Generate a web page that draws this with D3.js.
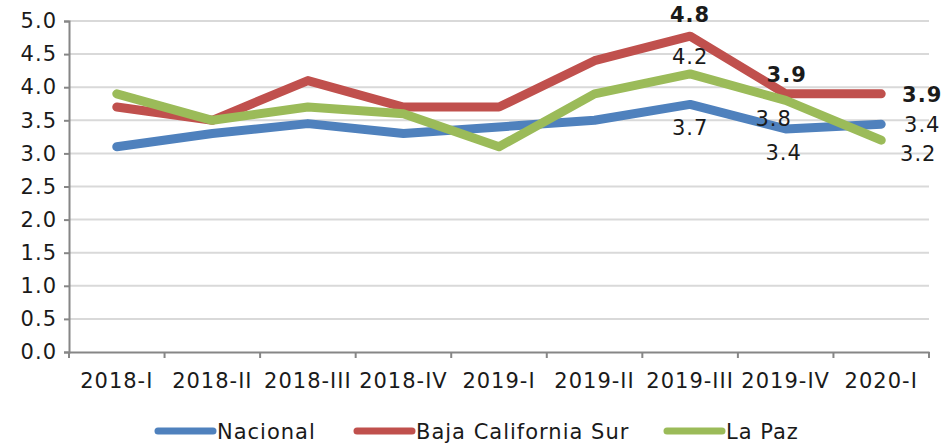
<!DOCTYPE html>
<html>
<head>
<meta charset="utf-8">
<script src="https://cdn.jsdelivr.net/npm/d3@7"></script>
<style>
  body { margin: 0; background: #fff; }
  text { font-family: "DejaVu Sans", "Open Sans", sans-serif; fill: #1a1a1a; letter-spacing: 1px; }
</style>
</head>
<body>
<div id="plotarea"></div>
<script>
var categories = ['2018-I', '2018-II', '2018-III', '2018-IV', '2019-I', '2019-II', '2019-III', '2019-IV', '2020-I'];
var nacional = [3.1, 3.3, 3.45, 3.3, 3.4, 3.5, 3.74, 3.37, 3.44];
var bcs = [3.7, 3.5, 4.1, 3.7, 3.7, 4.4, 4.77, 3.9, 3.9];
var laPaz = [3.9, 3.5, 3.7, 3.6, 3.1, 3.9, 4.2, 3.8, 3.2];
var seriesNames = ['Nacional', 'Baja California Sur', 'La Paz'];
var yTicks = [0, 0.5, 1, 1.5, 2, 2.5, 3, 3.5, 4, 4.5, 5];

d3.select(window).on('load', init);

function init() {
  var width = 943, height = 445;
  var margin = {top: 21, right: 14, bottom: 93, left: 69};
  var colors = ['#4F81BD', '#C0504D', '#9BBB59'];
  var series = [nacional, bcs, laPaz];
  var fs = '21px';

  var svg = d3.select('#plotarea').append('svg')
    .attr('width', width).attr('height', height);

  var x = d3.scaleBand().domain(categories)
    .range([margin.left, width - margin.right]);
  var y = d3.scaleLinear().domain([0, 5])
    .range([height - margin.bottom, margin.top]);

  // gridlines
  svg.append('g').selectAll('line').data(yTicks.slice(1)).enter().append('line')
    .attr('x1', margin.left).attr('x2', width - margin.right)
    .attr('y1', function(d) { return y(d); }).attr('y2', function(d) { return y(d); })
    .attr('stroke', '#d9d9d9').attr('stroke-width', 2);

  // y axis
  var yAxis = svg.append('g').attr('transform', 'translate(' + margin.left + ',0)')
    .call(d3.axisLeft(y).tickValues(yTicks).tickFormat(d3.format('.1f')).tickSize(5).tickPadding(7));
  yAxis.select('.domain').attr('stroke', '#868686').attr('stroke-width', 2);
  yAxis.selectAll('.tick line').attr('stroke', '#868686').attr('stroke-width', 2);
  yAxis.selectAll('text').style('font-size', fs).attr('fill', '#1a1a1a');

  // x axis
  var xAxis = svg.append('g').attr('transform', 'translate(0,' + y(0) + ')')
    .call(d3.axisBottom(x).tickSize(0).tickPadding(21));
  xAxis.select('.domain').attr('stroke', '#868686').attr('stroke-width', 2);
  xAxis.selectAll('text').style('font-size', fs).attr('fill', '#1a1a1a');
  svg.append('g').selectAll('line').data(categories.concat([null])).enter().append('line')
    .attr('x1', function(d, i) { return margin.left + i * x.step(); })
    .attr('x2', function(d, i) { return margin.left + i * x.step(); })
    .attr('y1', y(0)).attr('y2', y(0) + 6)
    .attr('stroke', '#868686').attr('stroke-width', 2);

  var line = d3.line()
    .x(function(d, i) { return x(categories[i]) + x.bandwidth() / 2; })
    .y(function(d) { return y(d); });

  svg.append('g').selectAll('path').data(series).enter().append('path')
    .attr('d', function(d) { return line(d); })
    .attr('fill', 'none')
    .attr('stroke', function(d, i) { return colors[i]; })
    .attr('stroke-width', 9)
    .attr('stroke-linecap', 'round')
    .attr('stroke-linejoin', 'round');

  // data labels: series index, category index, offset, bold
  var labels = [
    {s: 0, c: 6, dx: 0, dy: 31, b: false},
    {s: 0, c: 7, dx: -2, dy: 31, b: false},
    {s: 0, c: 8, dx: 41, dy: 8, b: false},
    {s: 1, c: 6, dx: 0, dy: -14, b: true},
    {s: 1, c: 7, dx: 1, dy: -12, b: true},
    {s: 1, c: 8, dx: 41, dy: 8, b: true},
    {s: 2, c: 6, dx: 0, dy: -10, b: false},
    {s: 2, c: 7, dx: -12, dy: 26, b: false},
    {s: 2, c: 8, dx: 37, dy: 21, b: false}
  ];
  svg.append('g').selectAll('text').data(labels).enter().append('text')
    .attr('x', function(d) { return x(categories[d.c]) + x.bandwidth() / 2 + d.dx; })
    .attr('y', function(d) { return y(series[d.s][d.c]) + d.dy; })
    .attr('text-anchor', 'middle')
    .style('font-size', fs)
    .style('font-weight', function(d) { return d.b ? 'bold' : 'normal'; })
    .text(function(d) { return d3.format('.1f')(series[d.s][d.c]); });

  // legend
  var legendX = [158, 357, 667];
  var lg = svg.append('g').selectAll('g').data(seriesNames).enter().append('g')
    .attr('transform', function(d, i) { return 'translate(' + legendX[i] + ',431)'; });
  lg.append('line').attr('x1', 0).attr('x2', 55).attr('y1', 0).attr('y2', 0)
    .attr('stroke', function(d, i) { return colors[i]; })
    .attr('stroke-width', 7).attr('stroke-linecap', 'round');
  lg.append('text').attr('x', 59).attr('y', 8)
    .style('font-size', fs).text(function(d) { return d; });
}
</script>
</body>
</html>
